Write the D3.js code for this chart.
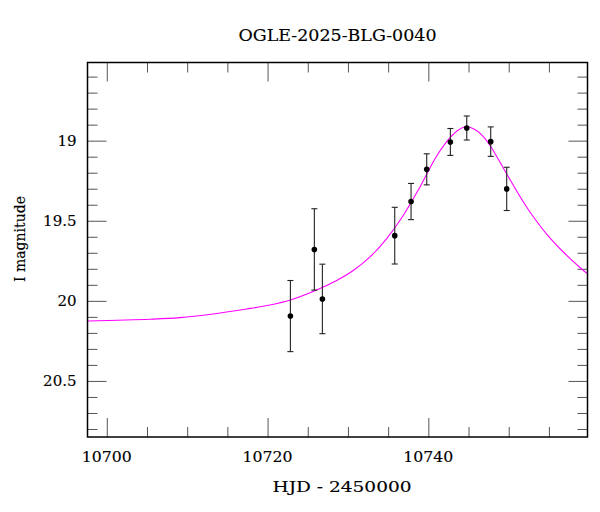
<!DOCTYPE html>
<html>
<head>
<meta charset="utf-8">
<script src="https://cdn.jsdelivr.net/npm/d3@7/dist/d3.min.js"></script>
<style>
  html, body { margin: 0; padding: 0; background: #fff; }
  svg { display: block; }
  text { font-family: "DejaVu Serif", serif; fill: #000; stroke: #000; stroke-width: 0.15px; }
</style>
</head>
<body>
<svg id="chart" width="600" height="512"></svg>
<script>
// ---- data ----
const title = "OGLE-2025-BLG-0040";
const xLabel = "HJD - 2450000";
const yLabel = "I magnitude";

const obsHJD = [10722.84, 10725.82, 10726.82, 10735.82, 10737.85, 10739.80, 10742.74, 10744.78, 10747.76, 10749.75];
const obsMag = [20.095, 19.679, 19.988, 19.593, 19.380, 19.179, 19.008, 18.921, 19.006, 19.301];
const obsErr = [0.222, 0.254, 0.217, 0.177, 0.113, 0.097, 0.084, 0.075, 0.092, 0.135];

const modelHJD = [10697.6, 10705.37, 10709.11, 10713.21, 10717.40, 10720.30, 10722.83, 10725.81, 10728.60, 10730.66,
                  10732.74, 10734.82, 10736.88, 10738.96, 10741.04, 10742.73, 10743.73, 10744.77, 10745.80, 10746.84,
                  10747.76, 10749.75, 10751.40, 10752.64, 10754.72, 10756.79, 10758.86, 10759.8];
const modelMag = [20.126, 20.115, 20.105, 20.082, 20.051, 20.026, 19.995, 19.939, 19.873, 19.811,
                  19.726, 19.611, 19.467, 19.289, 19.096, 18.980, 18.933, 18.913, 18.930, 18.974,
                  19.036, 19.208, 19.349, 19.445, 19.583, 19.695, 19.792, 19.832];

const xMajorTicks = [10700, 10720, 10740];
const xMinorTicks = [10705, 10710, 10715, 10725, 10730, 10735, 10745, 10750, 10755];
const yMajorTicks = [19, 19.5, 20, 20.5];
const yMinorTicks = [18.6, 18.7, 18.8, 18.9, 19.1, 19.2, 19.3, 19.4, 19.6, 19.7, 19.8, 19.9,
                     20.1, 20.2, 20.3, 20.4, 20.6, 20.7, 20.8];
const xDomain = [10697.6, 10759.8];
const yDomain = [18.512, 20.85];

// ---- layout ----
const L = 87.5, R = 587.5, T = 62.5, B = 437;
const svg = d3.select("#chart");

const x = d3.scaleLinear().domain(xDomain).range([L, R]);
const y = d3.scaleLinear().domain(yDomain).range([T, B]);

svg.append("clipPath").attr("id", "plotclip")
  .append("rect").attr("x", L).attr("y", T).attr("width", R - L).attr("height", B - T);

// ticks via d3 axes (inward ticks on all four sides)
const majorLen = 19, minorLen = 10;
function tickAxis(axisFn, scale, values, len, tr) {
  const g = svg.append("g").attr("transform", tr)
    .call(axisFn(scale).tickValues(values).tickSize(-len).tickFormat(""));
  g.select(".domain").remove();
  g.selectAll(".tick line").attr("stroke", "#555").attr("stroke-width", 1);
  return g;
}
tickAxis(d3.axisBottom, x, xMajorTicks, majorLen, `translate(0,${B})`);
tickAxis(d3.axisBottom, x, xMinorTicks, minorLen, `translate(0,${B})`);
tickAxis(d3.axisTop, x, xMajorTicks, majorLen, `translate(0,${T})`);
tickAxis(d3.axisTop, x, xMinorTicks, minorLen, `translate(0,${T})`);
tickAxis(d3.axisLeft, y, yMajorTicks, majorLen, `translate(${L},0)`);
tickAxis(d3.axisLeft, y, yMinorTicks, minorLen, `translate(${L},0)`);
tickAxis(d3.axisRight, y, yMajorTicks, majorLen, `translate(${R},0)`);
tickAxis(d3.axisRight, y, yMinorTicks, minorLen, `translate(${R},0)`);

// tick labels
svg.append("g").selectAll("text").data(xMajorTicks).join("text")
  .attr("x", d => x(d)).attr("y", 461.5)
  .attr("text-anchor", "middle").attr("font-size", 14.5)
  .attr("textLength", 50).attr("lengthAdjust", "spacingAndGlyphs")
  .text(d => d3.format("d")(d));

svg.append("g").selectAll("text").data(yMajorTicks).join("text")
  .attr("x", 76.5).attr("y", d => y(d) + 5)
  .attr("text-anchor", "end").attr("font-size", 15)
  .text(d => String(d));

// model curve
const model = modelHJD.map((t, i) => [t, modelMag[i]]);
svg.append("path")
  .attr("clip-path", "url(#plotclip)")
  .attr("d", d3.line().x(d => x(d[0])).y(d => y(d[1])).curve(d3.curveCatmullRom.alpha(0.5))(model))
  .attr("fill", "none").attr("stroke", "#ff00ff").attr("stroke-width", 1.1);

// observations with error bars
const obs = obsHJD.map((t, i) => ({ t, m: obsMag[i], e: obsErr[i] }));
const eb = svg.append("g").attr("stroke", "#222").attr("stroke-width", 1.1);
eb.selectAll("line.v").data(obs).join("line").attr("class", "v")
  .attr("x1", d => x(d.t)).attr("x2", d => x(d.t))
  .attr("y1", d => y(d.m - d.e)).attr("y2", d => y(d.m + d.e));
eb.selectAll("line.ct").data(obs).join("line").attr("class", "ct")
  .attr("x1", d => x(d.t) - 3).attr("x2", d => x(d.t) + 3)
  .attr("y1", d => y(d.m - d.e)).attr("y2", d => y(d.m - d.e));
eb.selectAll("line.cb").data(obs).join("line").attr("class", "cb")
  .attr("x1", d => x(d.t) - 3).attr("x2", d => x(d.t) + 3)
  .attr("y1", d => y(d.m + d.e)).attr("y2", d => y(d.m + d.e));
svg.append("g").selectAll("circle").data(obs).join("circle")
  .attr("cx", d => x(d.t)).attr("cy", d => y(d.m)).attr("r", 2.8).attr("fill", "#000");

// frame
svg.append("rect").attr("x", L).attr("y", T).attr("width", R - L).attr("height", B - T)
  .attr("fill", "none").attr("stroke", "#000").attr("stroke-width", 1.5);

// title & axis labels
svg.append("text").attr("x", (L + R) / 2).attr("y", 41)
  .attr("text-anchor", "middle").attr("font-size", 17.5)
  .attr("textLength", 198).attr("lengthAdjust", "spacingAndGlyphs")
  .text(title);
svg.append("text").attr("x", 342).attr("y", 491.5)
  .attr("text-anchor", "middle").attr("font-size", 15)
  .attr("textLength", 139).attr("lengthAdjust", "spacingAndGlyphs")
  .text(xLabel);
svg.append("text").attr("transform", "translate(25,239) rotate(-90)")
  .attr("text-anchor", "middle").attr("font-size", 14.5)
  .attr("textLength", 86).attr("lengthAdjust", "spacingAndGlyphs")
  .text(yLabel);
</script>
</body>
</html>
